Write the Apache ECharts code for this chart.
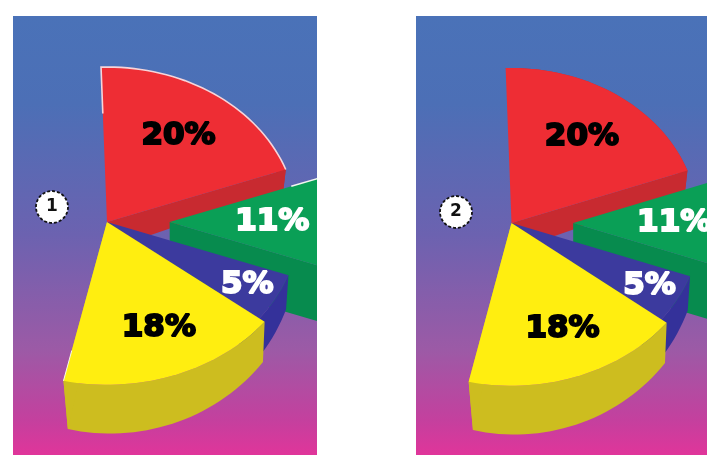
<!DOCTYPE html>
<html>
<head>
<meta charset="utf-8">
<style>
  html, body { margin: 0; padding: 0; background: #fff; }
  #main { width: 707px; height: 455px; filter: blur(0.5px); }
</style>
<script src="https://cdn.jsdelivr.net/npm/echarts@6/dist/echarts.min.js"></script>
</head>
<body>
<div id="main"></div>
<script>
// values, clockwise from the top of the pie
const categories = ['red', 'green', 'blue', 'yellow'];
const shareValues = [20, 11, 5, 18];
const shareLabels = ['20%', '11%', '5%', '18%'];
const badgeLabels = ['1', '2'];

const topColors = ['#EE2D34', '#0A9F56', '#3C3A9E', '#FFEE10'];
const wallColors = ['#C82A30', '#078B4E', '#34319A', '#CDBD1F'];
const labelColors = ['#000', '#fff', '#fff', '#000'];
const labelRadius = [0.67, 0.54, 0.83, 0.70];
const labelTurn = [0, 0, 0, -2];
const explode = [0, 33, 0, 0];
// the front slices look bigger in the perspective of the original
const sliceScale = [1, 1, 1.015, 1.05];

// the two panels, px. the pie is a flat ellipse, rx/ry px per 100 axis units
const panels = [
  { left: 13, right: 317, top: 16, bottom: 455, cx: 107, cy: 222, rx: 190, ry: 155, startDeg: -1.8, light: true, badge: [52, 207] },
  { left: 416, right: 707, top: 16, bottom: 455, cx: 511.5, cy: 223, rx: 187, ry: 155, startDeg: -1.8, light: false, badge: [456, 212] }
];

function wallDepth(i, y) {
  if (i === 1) return 36; // green sits closer, its wall is taller
  return 17.4 - 0.134 * y;
}

function bottomOf(i, p) {
  if (i === 1) return [p[0], p[1] - wallDepth(i, p[1])];
  return [p[0] * 0.97 + 1.6, p[1] - wallDepth(i, p[1])];
}

function sliceAngles(panel, i) {
  let from = panel.startDeg;
  for (let k = 0; k < i; k++) from += shareValues[k] * 3.6;
  return [from, from + shareValues[i] * 3.6];
}

function onPie(i, deg, r) {
  const a = deg * Math.PI / 180;
  return [explode[i] + r * 100 * Math.sin(a), r * 100 * Math.cos(a)];
}

function arcPoints(i, from, to) {
  const pts = [];
  const n = Math.ceil((to - from) / 2);
  for (let k = 0; k <= n; k++) pts.push(onPie(i, from + (to - from) * k / n, sliceScale[i]));
  return pts;
}

function makeRender(panel) {
  return function (params, api) {
    const i = api.value(0);
    const [from, to] = sliceAngles(panel, i);
    const apex = onPie(i, 0, 0);
    const arc = arcPoints(i, from, to);
    const px = p => api.coord(p);
    const children = [];

    // outer wall
    children.push({
      type: 'polygon',
      shape: { points: arc.concat(arc.map(p => bottomOf(i, p)).reverse()).map(px) },
      style: { fill: wallColors[i] }
    });
    // cut face at the clockwise end
    const tip = arc[arc.length - 1];
    children.push({
      type: 'polygon',
      shape: { points: [apex, tip, bottomOf(i, tip), bottomOf(i, apex)].map(px) },
      style: { fill: wallColors[i] }
    });
    // top face
    children.push({
      type: 'polygon',
      shape: { points: [apex].concat(arc).map(px) },
      style: { fill: topColors[i] }
    });

    // pale edges only on panel 1
    if (panel.light) {
      let line = null;
      if (i === 0) line = [onPie(i, from, 0.7)].concat(arc);
      if (i === 1) line = [onPie(i, from, 0.68), onPie(i, from, 1)];
      if (i === 3) line = [onPie(i, to, 0.85), onPie(i, to, sliceScale[i])];
      if (line) {
        children.push({
          type: 'polyline',
          shape: { points: line.map(px) },
          style: { fill: null, stroke: i === 0 ? '#F6D5DA' : '#F4F6F0', lineWidth: i === 3 ? 1 : 1.6 }
        });
      }
    }

    const mid = (from + to) / 2 + labelTurn[i];
    const at = px(onPie(i, mid, labelRadius[i] * sliceScale[i]));
    children.push({
      type: 'text',
      x: at[0],
      y: at[1],
      style: {
        text: shareLabels[i],
        font: 'bold 31px "DejaVu Sans"',
        fill: labelColors[i],
        stroke: labelColors[i],
        lineWidth: 2,
        align: 'center',
        verticalAlign: 'middle'
      }
    });
    return { type: 'group', children: children };
  };
}

const blueToPink = {
  type: 'linear', x: 0, y: 0, x2: 0, y2: 1,
  colorStops: [
    { offset: 0, color: '#4A72B8' },
    { offset: 0.2, color: '#4C6FB6' },
    { offset: 0.5, color: '#6C62B0' },
    { offset: 0.76, color: '#9C5AA6' },
    { offset: 0.92, color: '#C4409E' },
    { offset: 1, color: '#E0359A' }
  ]
};

const chart = echarts.init(document.getElementById('main'));
chart.setOption({
  animation: false,
  backgroundColor: '#fff',
  grid: panels.map(p => ({
    left: p.left,
    top: p.top,
    width: p.right - p.left,
    height: p.bottom - p.top,
    show: true,
    borderWidth: 0,
    backgroundColor: blueToPink
  })),
  xAxis: panels.map((p, n) => ({
    type: 'value', gridIndex: n, show: false, scale: true,
    min: (p.left - p.cx) / p.rx * 100,
    max: (p.right - p.cx) / p.rx * 100
  })),
  yAxis: panels.map((p, n) => ({
    type: 'value', gridIndex: n, show: false, scale: true,
    min: (p.cy - p.bottom) / p.ry * 100,
    max: (p.cy - p.top) / p.ry * 100
  })),
  series: panels.map((p, n) => ({
    type: 'custom',
    xAxisIndex: n,
    yAxisIndex: n,
    clip: true,
    silent: true,
    renderItem: makeRender(p),
    data: categories.map((c, i) => [i, shareValues[i]])
  })),
  graphic: panels.flatMap((p, n) => [
    {
      type: 'circle',
      shape: { cx: p.badge[0], cy: p.badge[1], r: 16 },
      style: { fill: '#fff', stroke: '#111', lineWidth: 1.8, lineDash: [3, 2] },
      z: 10
    },
    {
      type: 'text',
      x: p.badge[0],
      y: p.badge[1],
      style: {
        text: badgeLabels[n],
        font: 'bold 17px "DejaVu Sans"',
        fill: '#111',
        align: 'center',
        verticalAlign: 'middle'
      },
      z: 11
    }
  ])
});
</script>
</body>
</html>
